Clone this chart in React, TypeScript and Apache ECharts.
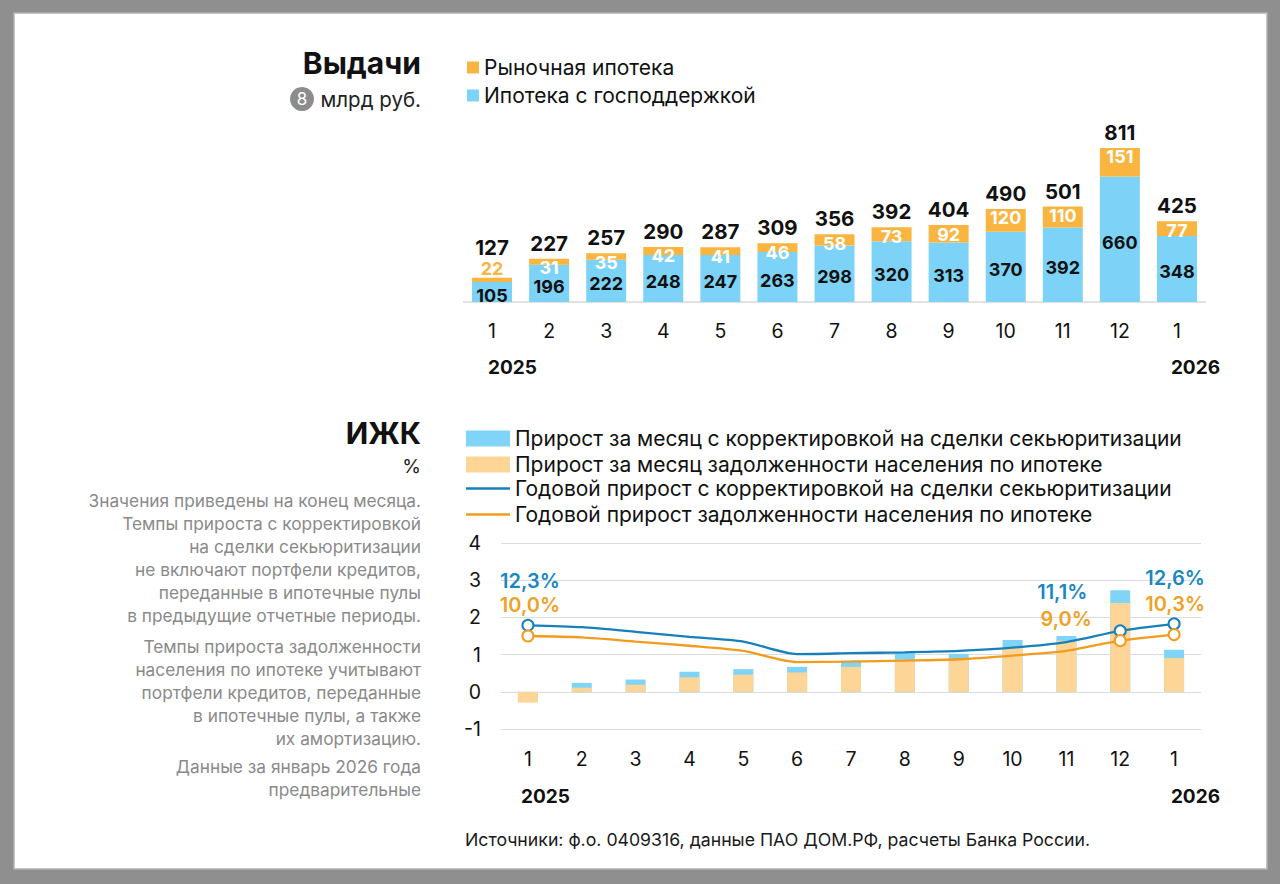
import React, { useEffect, useRef } from "react";
import * as echarts from "echarts";

const months = ["1", "2", "3", "4", "5", "6", "7", "8", "9", "10", "11", "12", "1"];
const marketMortgage = [22, 31, 35, 42, 41, 46, 58, 73, 92, 120, 110, 151, 77];
const govMortgage = [105, 196, 222, 248, 247, 263, 298, 320, 313, 370, 392, 660, 348];
const totalIssuance = [127, 227, 257, 290, 287, 309, 356, 392, 404, 490, 501, 811, 425];

const monthlyGrowthAdj = [-0.27, 0.24, 0.33, 0.54, 0.61, 0.67, 0.84, 1.04, 1.02, 1.39, 1.5, 2.73, 1.13];
const monthlyGrowthDebt = [-0.29, 0.11, 0.19, 0.39, 0.46, 0.52, 0.67, 0.86, 0.89, 1.2, 1.37, 2.39, 0.91];
const annualGrowthAdj = [12.3, 11.9, 10.9, 9.8, 8.8, 6.1, 6.3, 6.5, 6.8, 7.5, 8.7, 11.1, 12.6];
const annualGrowthDebt = [10.0, 9.7, 8.8, 7.9, 6.8, 4.4, 4.5, 4.7, 5.0, 5.8, 6.8, 9.0, 10.3];

const years = ["2025", "2026"];
const labelledPoints = [0, 11, 12];

const names = {
  market: "Рыночная ипотека",
  gov: "Ипотека с господдержкой",
  mAdj: "Прирост за месяц с корректировкой на сделки секьюритизации",
  mDebt: "Прирост за месяц задолженности населения по ипотеке",
  yAdj: "Годовой прирост с корректировкой на сделки секьюритизации",
  yDebt: "Годовой прирост задолженности населения по ипотеке",
};

const notes1 = [
  "Значения приведены на конец месяца.",
  "Темпы прироста с корректировкой",
  "на сделки секьюритизации",
  "не включают портфели кредитов,",
  "переданные в ипотечные пулы",
  "в предыдущие отчетные периоды.",
];
const notes2 = [
  "Темпы прироста задолженности",
  "населения по ипотеке учитывают",
  "портфели кредитов, переданные",
  "в ипотечные пулы, а также",
  "их амортизацию.",
];
const notes3 = ["Данные за январь 2026 года", "предварительные"];

const FONT = "Inter, 'Open Sans', sans-serif";
const C_ORANGE = "#f9b53f";
const C_BLUE = "#7dd3f7";
const C_LBLUE = "#80d4f7";
const C_LORANGE = "#fdd596";
const C_LINE_BLUE = "#1780bb";
const C_LINE_ORANGE = "#f29b1c";

const fmtPct = (v: number) => v.toFixed(1).replace(".", ",") + "%";

export default function App() {
  const ref = useRef<HTMLDivElement>(null);
  useEffect(() => {
    if (!ref.current) return;
    const chart = echarts.init(ref.current, undefined, { renderer: "svg" });

    const lineData = (vals: number[], offs: number[][], color: string) =>
      vals.map((v, i) => {
        const k = labelledPoints.indexOf(i);
        if (k < 0) return { value: v, symbol: "none" };
        return {
          value: v,
          symbol: "circle",
          symbolSize: 11,
          label: {
            show: true,
            formatter: () => fmtPct(v),
            position: "inside",
            offset: offs[k],
            color,
            fontSize: 20,
            lineHeight: 20,
            fontWeight: 600,
            fontFamily: FONT,
          },
        };
      });

    const notesGraphic = (lines: string[], yCenter: number) => ({
      type: "text",
      x: 421,
      y: yCenter - 11.5,
      style: {
        text: lines.join("\n"),
        align: "right",
        verticalAlign: "top",
        lineHeight: 23,
        fontSize: 17.3,
        fontFamily: FONT,
        fill: "#8a8a8a",
      },
    });

    const legendText = { fontSize: 21, lineHeight: 20, color: "#111", fontFamily: FONT };

    chart.setOption({
      animation: false,
      textStyle: { fontFamily: FONT },
      legend: [
        {
          data: [names.market, names.gov],
          orient: "vertical",
          left: 462,
          top: 52,
          itemWidth: 12,
          itemHeight: 12,
          itemGap: 7,
          icon: "rect",
          selectedMode: false,
          textStyle: legendText,
        },
        {
          data: [names.mAdj, names.mDebt],
          orient: "vertical",
          left: 461,
          top: 423,
          itemWidth: 44,
          itemHeight: 16,
          itemGap: 5,
          icon: "rect",
          selectedMode: false,
          textStyle: legendText,
        },
        {
          data: [
            { name: names.yAdj, itemStyle: { color: C_LINE_BLUE, borderWidth: 0 }, lineStyle: { width: 0 } },
            { name: names.yDebt, itemStyle: { color: C_LINE_ORANGE, borderWidth: 0 }, lineStyle: { width: 0 } },
          ],
          orient: "vertical",
          left: 461,
          top: 473,
          itemWidth: 44,
          itemHeight: 2.5,
          itemGap: 5,
          icon: "rect",
          selectedMode: false,
          textStyle: legendText,
        },
      ],
      grid: [
        { left: 463.5, width: 742, top: 112, height: 190 },
        { left: 501, width: 700, top: 543, height: 186 },
      ],
      xAxis: [
        {
          type: "category",
          gridIndex: 0,
          data: months,
          axisLine: { lineStyle: { color: "#d9d9d9", width: 1.5 } },
          axisTick: { show: false },
          axisLabel: { fontSize: 19.5, color: "#111", margin: 19, fontFamily: FONT },
        },
        {
          type: "category",
          gridIndex: 1,
          data: months,
          axisLine: { show: false, onZero: false },
          axisTick: { show: false },
          axisLabel: { fontSize: 19.5, color: "#111", margin: 20, fontFamily: FONT },
        },
      ],
      yAxis: [
        { type: "value", gridIndex: 0, min: 0, max: 1000, show: false },
        {
          type: "value",
          gridIndex: 1,
          min: -1,
          max: 4,
          interval: 1,
          axisLine: { show: false },
          axisTick: { show: false },
          splitLine: { lineStyle: { color: "#dcdcdc", width: 1 } },
          axisLabel: { fontSize: 19.5, color: "#111", margin: 20, fontFamily: FONT },
        },
        { type: "value", gridIndex: 1, min: -10, max: 30, show: false, splitLine: { show: false } },
      ],
      series: [
        {
          name: names.gov,
          type: "bar",
          xAxisIndex: 0,
          yAxisIndex: 0,
          stack: "issuance",
          barWidth: 40,
          itemStyle: { color: C_BLUE },
          data: govMortgage,
          label: {
            show: true,
            position: "inside",
            offset: [0, 3],
            color: "#111",
            fontSize: 18,
            fontWeight: 700,
            fontFamily: FONT,
          },
        },
        {
          name: names.market,
          type: "bar",
          xAxisIndex: 0,
          yAxisIndex: 0,
          stack: "issuance",
          barWidth: 40,
          itemStyle: { color: C_ORANGE },
          data: marketMortgage.map((v, i) =>
            i === 0
              ? { value: v, label: { position: "top", color: C_ORANGE, distance: 0 } }
              : v
          ),
          label: {
            show: true,
            position: "insideTop",
            distance: 0,
            color: "#fff",
            fontSize: 18,
            fontWeight: 700,
            fontFamily: FONT,
          },
        },
        {
          name: "total",
          type: "bar",
          xAxisIndex: 0,
          yAxisIndex: 0,
          stack: "issuance",
          barWidth: 40,
          itemStyle: { color: "transparent" },
          data: totalIssuance.map((_, i) =>
            i === 0 ? { value: 0, label: { distance: 20 } } : 0
          ),
          label: {
            show: true,
            position: "top",
            distance: 5,
            formatter: (p: any) => String(totalIssuance[p.dataIndex]),
            color: "#111",
            fontSize: 20.5,
            fontWeight: 700,
            fontFamily: FONT,
          },
        },
        {
          name: names.mAdj,
          type: "bar",
          xAxisIndex: 1,
          yAxisIndex: 1,
          barWidth: 20,
          barGap: "-100%",
          itemStyle: { color: C_LBLUE },
          data: monthlyGrowthAdj,
        },
        {
          name: names.mDebt,
          type: "bar",
          xAxisIndex: 1,
          yAxisIndex: 1,
          barWidth: 20,
          barGap: "-100%",
          itemStyle: { color: C_LORANGE },
          data: monthlyGrowthDebt,
        },
        {
          name: names.yAdj,
          type: "line",
          xAxisIndex: 1,
          yAxisIndex: 2,
          smooth: 0.25,
          color: C_LINE_BLUE,
          lineStyle: { color: C_LINE_BLUE, width: 2.3 },
          itemStyle: { color: "#fff", borderColor: C_LINE_BLUE, borderWidth: 2 },
          z: 5,
          data: lineData(annualGrowthAdj, [[2, -44], [-58, -39], [1, -46]], "#1a87c2"),
        },
        {
          name: names.yDebt,
          type: "line",
          xAxisIndex: 1,
          yAxisIndex: 2,
          smooth: 0.25,
          color: C_LINE_ORANGE,
          lineStyle: { color: C_LINE_ORANGE, width: 2.3 },
          itemStyle: { color: "#fff", borderColor: C_LINE_ORANGE, borderWidth: 2 },
          z: 5,
          data: lineData(annualGrowthDebt, [[2, -31], [-54, -22], [1, -31]], "#f0a126"),
        },
      ],
      graphic: [
        {
          type: "text",
          x: 421,
          y: 63,
          style: { text: "Выдачи", align: "right", verticalAlign: "middle", fontSize: 30, fontWeight: 700, fontFamily: FONT, fill: "#111" },
        },
        { type: "circle", shape: { cx: 302, cy: 99, r: 12 }, style: { fill: "#8c8c8c" } },
        {
          type: "text",
          x: 302,
          y: 99,
          style: { text: "8", align: "center", verticalAlign: "middle", fontSize: 17, fontFamily: FONT, fill: "#fff" },
        },
        {
          type: "text",
          x: 421,
          y: 99,
          style: { text: "млрд руб.", align: "right", verticalAlign: "middle", fontSize: 20.5, fontFamily: FONT, fill: "#222" },
        },
        {
          type: "text",
          x: 488,
          y: 367,
          style: { text: years[0], align: "left", verticalAlign: "middle", fontSize: 19, fontWeight: 700, fontFamily: FONT, fill: "#111" },
        },
        {
          type: "text",
          x: 1220,
          y: 367,
          style: { text: years[1], align: "right", verticalAlign: "middle", fontSize: 19, fontWeight: 700, fontFamily: FONT, fill: "#111" },
        },
        {
          type: "text",
          x: 421,
          y: 433,
          style: { text: "ИЖК", align: "right", verticalAlign: "middle", fontSize: 29.5, fontWeight: 700, fontFamily: FONT, fill: "#111" },
        },
        {
          type: "text",
          x: 421,
          y: 466,
          style: { text: "%", align: "right", verticalAlign: "middle", fontSize: 19, fontFamily: FONT, fill: "#222" },
        },
        notesGraphic(notes1, 500),
        notesGraphic(notes2, 646),
        notesGraphic(notes3, 766),
        {
          type: "text",
          x: 521,
          y: 796,
          style: { text: years[0], align: "left", verticalAlign: "middle", fontSize: 19, fontWeight: 700, fontFamily: FONT, fill: "#111" },
        },
        {
          type: "text",
          x: 1220,
          y: 796,
          style: { text: years[1], align: "right", verticalAlign: "middle", fontSize: 19, fontWeight: 700, fontFamily: FONT, fill: "#111" },
        },
        {
          type: "text",
          x: 465,
          y: 839,
          style: {
            text: "Источники: ф.о. 0409316, данные ПАО ДОМ.РФ, расчеты Банка России.",
            align: "left",
            verticalAlign: "middle",
            fontSize: 17.7,
            fontFamily: FONT,
            fill: "#1a1a1a",
          },
        },
      ],
    });
    return () => chart.dispose();
  }, []);

  return (
    <div style={{ position: "fixed", left: 0, top: 0, width: 1280, height: 884, background: "#8f8f8f" }}>
      <div
        style={{
          position: "absolute",
          left: 15,
          top: 14,
          width: 1251,
          height: 854,
          background: "#fff",
          boxShadow: "0 0 0 1.5px #c4c4c4",
        }}
      />
      <div ref={ref} style={{ position: "absolute", left: 0, top: 0, width: 1280, height: 884 }} />
    </div>
  );
}
